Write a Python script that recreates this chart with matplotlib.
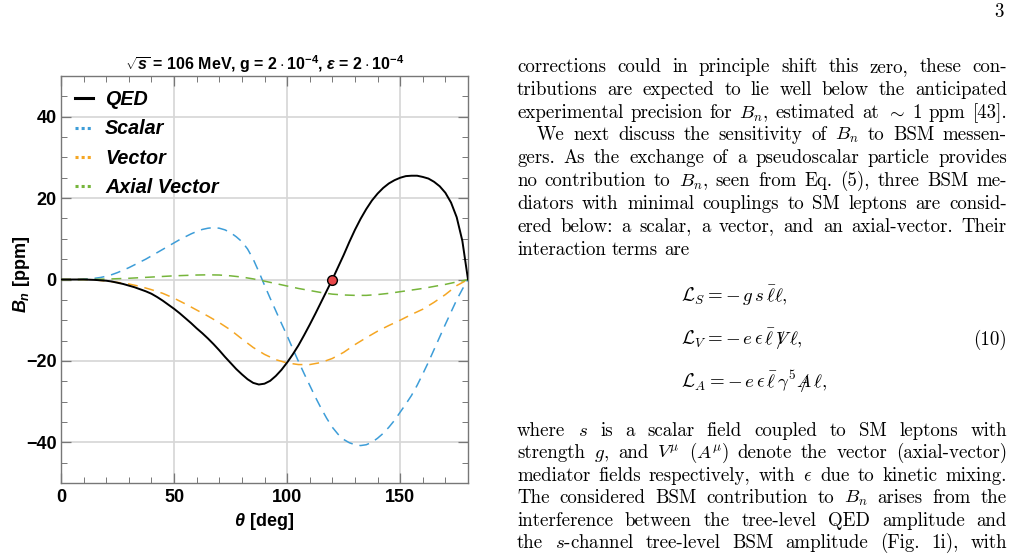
import matplotlib
matplotlib.use('Agg')
import matplotlib.pyplot as plt
from matplotlib.lines import Line2D

W, H = 1013, 559

# curves, B_n in ppm vs scattering angle in degrees
theta_fine = [i * 2.5 for i in range(73)]   # 0, 2.5, ... 180
qed = [0, 0, 0, 0, 0, -0.05, -0.1, -0.2, -0.3, -0.5, -0.8, -1.1, -1.5, -1.9, -2.4,
       -2.9, -3.5, -4.3, -5.2, -6.2, -7.2, -8.3, -9.5, -10.7, -12.0, -13.2, -14.5,
       -15.9, -17.4, -19.0, -20.5, -22.0, -23.3, -24.5, -25.4, -25.8, -25.6, -24.9,
       -23.7, -22.2, -20.4, -18.4, -16.2, -13.7, -11.1, -8.4, -5.6, -2.8, 0, 3.0, 6.0,
       9.2, 12.2, 14.9, 17.3, 19.4, 21.1, 22.5, 23.6, 24.4, 25.0, 25.4, 25.5, 25.5,
       25.2, 24.8, 24.0, 22.9, 21.3, 18.9, 15.3, 9.5, 0]
scalar = [0, 0, 0, 0, 0.1, 0.2, 0.3, 0.5, 0.8, 1.2, 1.7, 2.3, 2.9, 3.6, 4.3, 5.0, 5.8,
          6.6, 7.4, 8.2, 9.0, 9.8, 10.5, 11.2, 11.8, 12.3, 12.6, 12.75, 12.6, 12.2,
          11.5, 10.5, 9.3, 7.5, 5.0, 1.9, -1.4, -4.6, -7.7, -10.8, -13.8, -17.0, -20.1,
          -23.1, -26.0, -28.9, -31.6, -34.1, -36.3, -38.0, -39.3, -40.1, -40.6, -40.8,
          -40.6, -40.0, -39.0, -37.8, -36.3, -34.6, -32.6, -30.6, -28.5, -26.0, -23.2,
          -20.3, -17.2, -14.1, -11.0, -8.0, -5.0, -2.4, 0]
theta = [0, 5, 10, 15, 20, 25, 30, 35, 40, 45, 50, 55, 60, 65, 70, 75, 80, 85, 90,
         95, 100, 105, 110, 115, 120, 125, 130, 135, 140, 145, 150, 155, 160, 165,
         170, 175, 178, 180]
vector = [0, 0, 0, -0.1, -0.4, -0.7, -1.1, -1.7, -2.5, -3.4, -4.6, -6.0, -7.5, -9.0,
          -10.6, -12.4, -14.6, -16.7, -18.4, -19.7, -20.5, -20.9, -20.9, -20.4, -19.4,
          -17.9, -16.0, -14.3, -12.7, -11.3, -10.0, -8.6, -7.3, -5.6, -3.7, -1.5, -0.6, 0]
axial = [0, 0, 0, 0.05, 0.1, 0.2, 0.3, 0.45, 0.6, 0.75, 0.9, 1.0, 1.1, 1.15, 1.1, 0.9,
         0.6, 0.15, -0.4, -1.0, -1.6, -2.2, -2.7, -3.2, -3.6, -3.8, -3.9, -3.9, -3.7,
         -3.4, -3.0, -2.6, -2.2, -1.7, -1.2, -0.6, -0.25, 0]
zero_theta = 120.0
zero_bn = 0.0

labels = ['QED', 'Scalar', 'Vector', 'Axial Vector']
colors = ['black', '#3d9dd8', '#f5a623', '#76b53b']
xticks = [0, 50, 100, 150]
yticks = [-40, -20, 0, 20, 40]
title = r'$\sqrt{s}$ = 106 MeV, g = $2\cdot10^{-4}$, $\epsilon$ = $2\cdot10^{-4}$'

# surrounding page text
page_num = '3'
para1 = [
    "corrections could in principle shift this zero, these con-",
    "tributions are expected to lie well below the anticipated",
    r"experimental precision for $B_n$, estimated at $\sim$ 1 ppm [43].",
    r"We next discuss the sensitivity of $B_n$ to BSM messen-",
    "gers. As the exchange of a pseudoscalar particle provides",
    r"no contribution to $B_n$, seen from Eq. (5), three BSM me-",
    "diators with minimal couplings to SM leptons are consid-",
    "ered below: a scalar, a vector, and an axial-vector. Their",
    "interaction terms are",
]
para2 = [
    r"where $s$ is a scalar field coupled to SM leptons with",
    r"strength $g,$ and $V^\mu$ $(A^\mu)$ denote the vector (axial-vector)",
    r"mediator fields respectively, with $\epsilon$ due to kinetic mixing.",
    r"The considered BSM contribution to $B_n$ arises from the",
    "interference between the tree-level QED amplitude and",
    r"the $s$-channel tree-level BSM amplitude (Fig. 1i), with",
]
equations = [
    r'$\mathcal{L}_S = -\,g\,s\,\bar{\ell}\ell,$',
    r'$\mathcal{L}_V = -\,e\,\epsilon\,\bar{\ell}\,V\!\!\!\!/\;\ell,$',
    r'$\mathcal{L}_A = -\,e\,\epsilon\,\bar{\ell}\,\gamma^5 A\!\!\!\!/\;\ell,$',
]
eq_number = '(10)'

plt.rcParams['font.family'] = ['Liberation Sans', 'DejaVu Sans']
plt.rcParams['mathtext.fontset'] = 'custom'
plt.rcParams['mathtext.rm'] = 'Liberation Sans:bold'
plt.rcParams['mathtext.bf'] = 'Liberation Sans:bold'
plt.rcParams['mathtext.it'] = 'Liberation Sans:bold:italic'
plt.rcParams['mathtext.sf'] = 'Liberation Sans:bold'

fig = plt.figure(figsize=(W / 100, H / 100), dpi=100)
fig.patch.set_facecolor('white')

# chart
ax = fig.add_axes([61 / W, 1 - 483 / H, 407 / W, 407 / H])
ax.plot(theta_fine, qed, color=colors[0], lw=1.4, zorder=4)
ax.plot(theta_fine, scalar, color=colors[1], lw=1.1, dashes=(6.5, 4.5), zorder=3)
ax.plot(theta, vector, color=colors[2], lw=1.1, dashes=(6.5, 4.5), zorder=3)
ax.plot(theta, axial, color=colors[3], lw=1.1, dashes=(6.5, 4.5), zorder=3)
ax.plot(zero_theta, zero_bn, 'o', ms=7, mfc='#e8474a', mec='black', mew=1.0, zorder=6)

ax.set_xlim(0, 180)
ax.set_ylim(-50, 50)
ax.set_xticks(xticks)
ax.set_yticks(yticks)
ax.set_xticks(range(0, 181, 10), minor=True)
ax.set_yticks(range(-50, 51, 5), minor=True)
ax.set_xticklabels([str(v) for v in xticks], fontweight='bold')
ax.set_yticklabels([str(v).replace('-', '\u2212') for v in yticks], fontweight='bold')
ax.tick_params(which='both', direction='in', top=True, right=True, colors='#777777',
               labelcolor='black', labelsize=13)
ax.tick_params(which='major', length=7, width=0.9, pad=4)
ax.tick_params(axis='y', which='major', pad=3)
ax.tick_params(which='minor', length=4, width=0.7)
for sp in ax.spines.values():
    sp.set_color('#777777')
    sp.set_linewidth(1.0)
ax.grid(True, which='major', color='#d6d6d6', lw=1.2)
ax.set_axisbelow(True)

ax.set_title(title, fontsize=11.5, fontweight='bold', pad=4)
ax.set_xlabel(r'$\theta$ [deg]', fontsize=13, fontweight='bold')
ax.xaxis.set_label_coords(0.5, (483 - 522) / 407)
ax.xaxis.label.set_va('center')
ax.set_ylabel(r'$B_n$ [ppm]', fontsize=13, fontweight='bold')
ax.yaxis.set_label_coords((22 - 61) / 407, (483 - 274) / 407)
ax.yaxis.label.set_va('center')

handles = [Line2D([], [], color=colors[0], lw=2.2)]
handles += [Line2D([], [], color=c, lw=2.2, linestyle=(0, (1.0, 1.0))) for c in colors[1:]]
ax.legend(handles, labels, loc='upper left', bbox_to_anchor=(14 / 407, (483 - 90) / 407),
          frameon=False, borderpad=0, borderaxespad=0, handlelength=0.9,
          handletextpad=0.62, labelspacing=0.53,
          prop={'size': 14.2, 'weight': 'bold', 'style': 'italic'})

# page text, justified word by word
renderer = fig.canvas.get_renderer()
body = dict(family='cmr10', fontsize=13.6, math_fontfamily='cm', fontweight='normal',
            color='black')


def put_line(line, x0, x1, ybase, justify=True):
    words = line.split(' ')
    items = [fig.text(0, 0, w, va='baseline', ha='left', **body) for w in words]
    widths = [t.get_window_extent(renderer).width for t in items]
    gap = 6.3
    if justify and len(items) > 1:
        gap = (x1 - x0 - sum(widths)) / (len(items) - 1)
    x = x0
    for t, w in zip(items, widths):
        t.set_position((x / W, 1 - ybase / H))
        x += w + gap


left, right = 517, 1007
y1 = [72, 95, 118, 140, 163, 186, 209, 232, 255]
for i, line in enumerate(para1):
    x0 = left + 20 if i == 3 else left
    put_line(line, x0, right, y1[i], justify=(i != len(para1) - 1))
y2 = [436, 458, 481, 503, 526, 548]
for i, line in enumerate(para2):
    put_line(line, left, right, y2[i])

for eq, yb in zip(equations, [302, 345, 388]):
    fig.text(681 / W, 1 - yb / H, eq, va='baseline', ha='left', **body)
fig.text(right / W, 1 - 345 / H, eq_number, va='baseline', ha='right', **body)
fig.text(1004 / W, 1 - 17 / H, page_num, va='baseline', ha='right', **body)

fig.savefig('out.png', dpi=100)
